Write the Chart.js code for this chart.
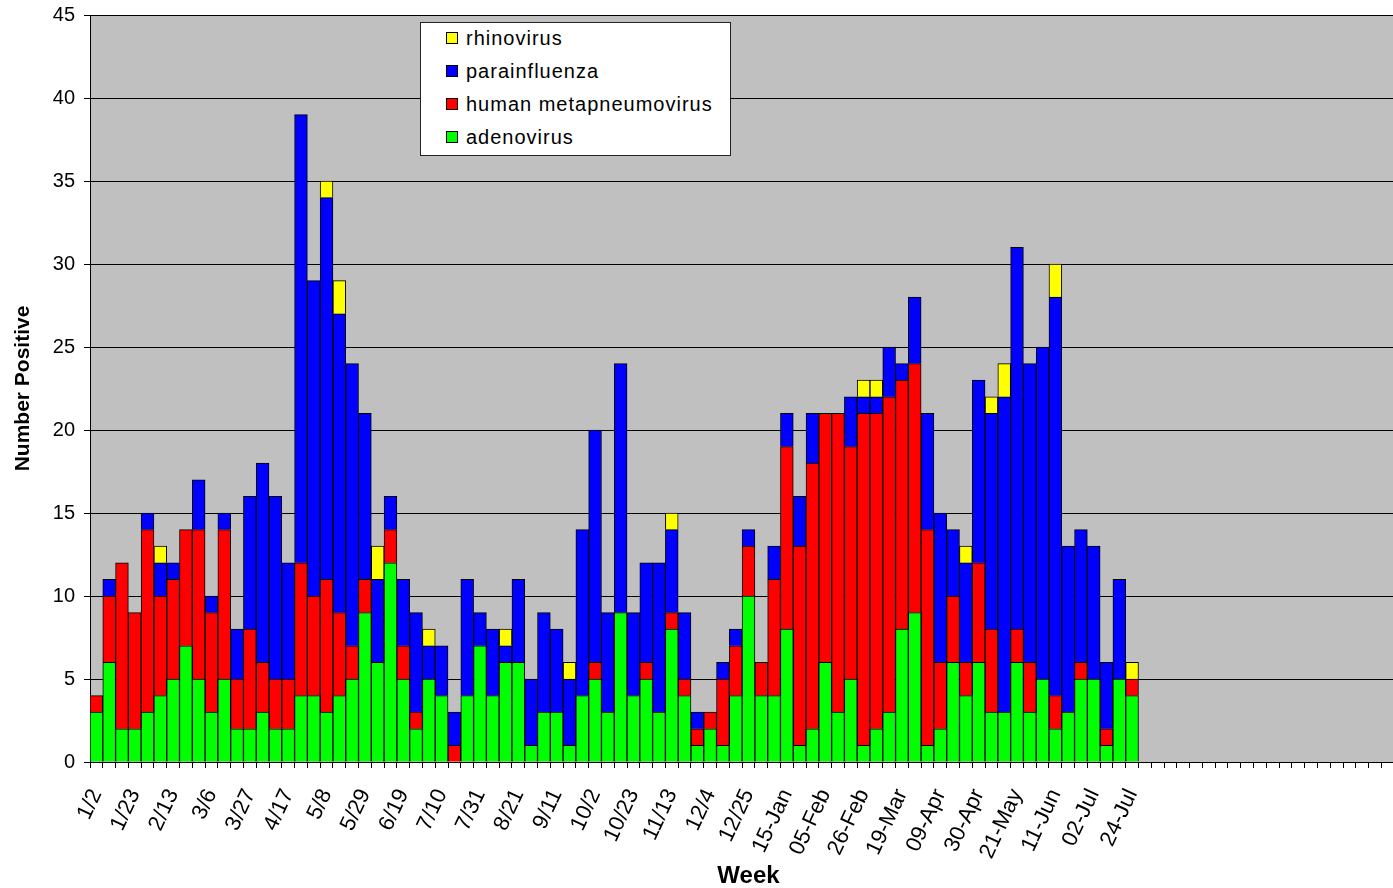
<!DOCTYPE html>
<html>
<head>
<meta charset="utf-8">
<title>Respiratory virus positives by week</title>
<script src="https://cdn.jsdelivr.net/npm/chart.js@4.4.0/dist/chart.umd.min.js"></script>
<style>
  html, body { margin: 0; padding: 0; background: #fff; overflow: hidden; }
  #wrap { position: relative; width: 1407px; height: 888px; }
  #legend {
    position: absolute; left: 420px; top: 22px; width: 309px; height: 132px;
    background: #fff; border: 1px solid #222;
    font: 20px "Liberation Sans", Arial, sans-serif; letter-spacing: 1px; color: #000;
  }
  .item { position: absolute; left: 25px; height: 24px; display: flex; align-items: center; white-space: nowrap; }
  .sw { width: 10px; height: 10px; border: 1px solid #000; margin-right: 8px; flex: none; }
</style>
</head>
<body>
<div id="wrap">
  <canvas id="chart" width="1407" height="888"></canvas>
  <div id="legend"></div>
</div>
<script>
// every third week is labelled on the axis
const tickLabels = ['1/2', '1/23', '2/13', '3/6', '3/27', '4/17', '5/8', '5/29', '6/19', '7/10',
  '7/31', '8/21', '9/11', '10/2', '10/23', '11/13', '12/4', '12/25', '15-Jan', '05-Feb',
  '26-Feb', '19-Mar', '09-Apr', '30-Apr', '21-May', '11-Jun', '02-Jul', '24-Jul'];
const weekCount = 103;

const adenovirus = [3, 6, 2, 2, 3, 4, 5, 7, 5, 3, 5, 2, 2, 3, 2, 2, 4, 4, 3, 4,
  5, 9, 6, 12, 5, 2, 5, 4, 0, 4, 7, 4, 6, 6, 1, 3, 3, 1, 4, 5,
  3, 9, 4, 5, 3, 8, 4, 1, 2, 1, 4, 10, 4, 4, 8, 1, 2, 6, 3, 5,
  1, 2, 3, 8, 9, 1, 2, 6, 4, 6, 3, 3, 6, 3, 5, 2, 3, 5, 5, 1, 5, 4];
const metapneumovirus = [1, 4, 10, 7, 11, 6, 6, 7, 9, 6, 9, 3, 6, 3, 3, 3, 8, 6, 8, 5,
  2, 2, 0, 2, 2, 1, 0, 0, 1, 0, 0, 0, 0, 0, 0, 0, 0, 0, 0, 1,
  0, 0, 0, 1, 0, 1, 1, 1, 1, 4, 3, 3, 2, 7, 11, 12, 16, 15, 18, 14,
  20, 19, 19, 15, 15, 13, 4, 4, 2, 6, 5, 0, 2, 3, 0, 2, 0, 1, 0, 1, 0, 1];
const parainfluenza = [0, 1, 0, 0, 1, 2, 1, 0, 3, 1, 1, 3, 8, 12, 11, 7, 27, 19, 23, 18,
  17, 10, 5, 2, 4, 6, 2, 3, 2, 7, 2, 4, 1, 5, 4, 6, 5, 4, 10, 14,
  6, 15, 5, 6, 9, 5, 4, 1, 0, 1, 1, 1, 0, 2, 2, 3, 3, 0, 0, 3,
  1, 1, 3, 1, 4, 7, 9, 4, 6, 11, 13, 19, 23, 18, 20, 24, 10, 8, 8, 4, 6, 0];
const rhinovirus = [0, 0, 0, 0, 0, 1, 0, 0, 0, 0, 0, 0, 0, 0, 0, 0, 0, 0, 1, 2,
  0, 0, 2, 0, 0, 0, 1, 0, 0, 0, 0, 0, 1, 0, 0, 0, 0, 1, 0, 0,
  0, 0, 0, 0, 0, 1, 0, 0, 0, 0, 0, 0, 0, 0, 0, 0, 0, 0, 0, 0,
  1, 1, 0, 0, 0, 0, 0, 0, 1, 0, 1, 2, 0, 0, 0, 2, 0, 0, 0, 0, 0, 1];

const yTicks = [0, 5, 10, 15, 20, 25, 30, 35, 40, 45];

const weeks = Array.from({ length: weekCount }, (_, i) =>
  (i % 3 === 0 && i / 3 < tickLabels.length) ? tickLabels[i / 3] : '');

const series = [
  { label: 'adenovirus', data: adenovirus, color: '#00ff00' },
  { label: 'human metapneumovirus', data: metapneumovirus, color: '#ff0000' },
  { label: 'parainfluenza', data: parainfluenza, color: '#0000ff' },
  { label: 'rhinovirus', data: rhinovirus, color: '#ffff00' }
];

// legend box sits inside the plot, top entry = top of the stack
const legend = document.getElementById('legend');
series.slice().reverse().forEach((s, i) => {
  const row = document.createElement('div');
  row.className = 'item';
  row.style.top = (3 + i * 33) + 'px';
  row.innerHTML = `<span class="sw" style="background:${s.color}"></span><span>${s.label}</span>`;
  legend.appendChild(row);
});

const plotBg = {
  id: 'plotBg',
  beforeDraw(chart) {
    const { ctx, chartArea: a } = chart;
    ctx.save();
    ctx.fillStyle = '#c0c0c0';
    ctx.fillRect(a.left, a.top, a.right - a.left, a.bottom - a.top);
    ctx.restore();
  }
};

Chart.defaults.font.family = '"Liberation Sans", Arial, sans-serif';
Chart.defaults.color = '#000';

new Chart(document.getElementById('chart'), {
  type: 'bar',
  data: {
    labels: weeks,
    datasets: series.map(s => ({
      label: s.label,
      data: s.data,
      backgroundColor: s.color,
      borderColor: '#000',
      borderWidth: 1,
      barPercentage: 1,
      categoryPercentage: 1
    }))
  },
  options: {
    responsive: false,
    animation: false,
    layout: { padding: { top: 15, right: 0, bottom: 0, left: 0 } },
    plugins: { legend: { display: false }, tooltip: { enabled: false } },
    scales: {
      x: {
        stacked: true,
        offset: true,
        grid: { offset: true, drawOnChartArea: false, drawTicks: true, tickLength: 6, color: '#000' },
        border: { display: true, color: '#000', width: 1 },
        ticks: { autoSkip: false, minRotation: 65, maxRotation: 65, font: { size: 22 }, padding: 17 },
        title: { display: true, text: 'Week', font: { size: 24, weight: 'bold', lineHeight: 1 }, padding: { top: 0, bottom: 0 } },
        // fixed band height; plot runs to the right edge (cropped like the original)
        afterFit: (s) => { s.height = 126; s.paddingLeft = 0; s.paddingRight = 0; }
      },
      y: {
        stacked: true,
        min: 0,
        max: 45,
        afterBuildTicks: (s) => { s.ticks = yTicks.map(v => ({ value: v })); },
        ticks: { font: { size: 20 }, padding: 9 },
        grid: { color: '#000', tickLength: 6 },
        border: { display: true, color: '#000', width: 1 },
        title: { display: true, text: 'Number Positive', font: { size: 21, weight: 'bold' }, padding: { top: 11, bottom: 0 } },
        afterFit: (s) => { s.width = 90; s.paddingTop = 0; s.paddingBottom = 0; }
      }
    }
  },
  plugins: [plotBg]
});
</script>
</body>
</html>
